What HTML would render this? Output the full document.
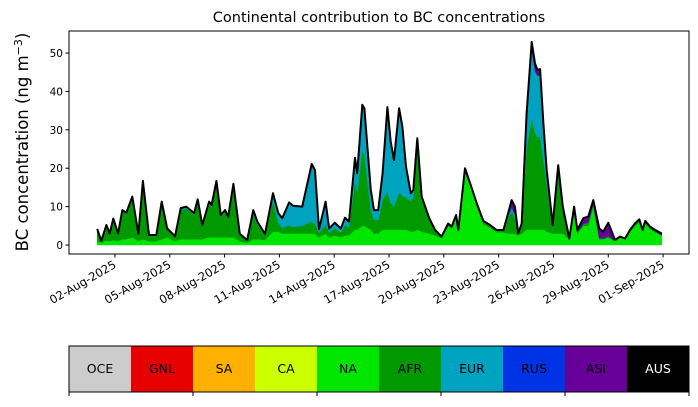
<!DOCTYPE html>
<html><head><meta charset="utf-8"><style>
body{margin:0;background:#fff;width:698px;height:402px;overflow:hidden;font-family:"Liberation Sans","DejaVu Sans",sans-serif}
svg text{font-family:"DejaVu Sans","Liberation Sans",sans-serif}
</style></head><body>
<svg id="chart" width="698" height="402" viewBox="0 0 698 402" xmlns="http://www.w3.org/2000/svg">
<text x="379" y="22" font-size="14.5" text-anchor="middle">Continental contribution to BC concentrations</text>
<text transform="translate(28,142) rotate(-90)" font-size="16.5" text-anchor="middle">BC concentration (ng m<tspan baseline-shift="super" font-size="11">−3</tspan>)</text>
<g id="areas"></g><g id="axes"></g><g id="cbar"></g>
</svg>
<script>
const days=[0.03,0.25,0.53,0.71,0.91,1.17,1.40,1.62,1.95,2.28,2.53,2.86,3.26,3.56,3.86,4.29,4.60,4.90,5.33,5.53,5.78,6.15,6.29,6.55,6.79,7.02,7.20,7.48,7.83,8.24,8.57,8.79,9.21,9.65,9.94,10.16,10.53,10.75,11.25,11.77,11.95,12.17,12.53,12.72,13.03,13.36,13.59,13.81,14.14,14.26,14.54,14.65,15.00,15.18,15.41,15.65,15.91,16.09,16.27,16.55,16.73,16.93,17.19,17.33,17.55,17.79,18.20,18.52,18.88,19.24,19.43,19.67,19.79,20.16,20.43,20.80,21.16,21.53,21.89,22.26,22.47,22.71,22.89,23.07,23.26,23.53,23.81,23.99,24.12,24.27,24.45,24.63,24.96,25.26,25.51,25.87,26.13,26.31,26.64,26.91,27.18,27.51,27.73,28.00,28.37,28.64,28.92,29.19,29.46,29.70,29.88,30.02,30.29,30.57,30.93];
const total=[4.2,1.1,5.2,3.0,6.9,3,9.1,8.4,12.6,2.9,16.7,2.6,2.6,11.3,4.3,2.3,9.6,10,8.3,11.9,5.2,11.3,10.4,16.7,7.8,9.1,7.4,15.9,2.9,1.3,9.1,6.1,2.9,13.5,8.3,7,11.1,10.2,10,21.1,19.5,4.1,11.3,4.3,5.8,4.3,7.1,6.1,22.7,18.7,36.5,35.6,14.3,9.1,9.1,18.7,35.9,26.9,22.1,35.6,30.8,20.4,13.5,14.3,27.8,12.6,7,3.9,2.2,5.6,4.8,7.8,3.9,20,16.2,10.9,6.3,5.2,3.9,3.9,7.4,11.7,10,3,5.6,34.3,52.9,47.3,45.6,45.8,31.7,19.5,5.2,20.8,10,1.7,10,3.9,7,7.4,11.7,4.3,3.5,5.8,1.3,2.2,1.7,3.9,5.6,6.7,3.9,6.3,4.8,3.9,3];
const na=[1,0.6,1.2,1,1.3,1,1.5,1.5,2,1,1.5,1,1,1.5,2,1,1.5,1.5,1.5,1.5,1.5,2,2,2,2,2,2,2,1,0.6,1.5,1.5,1.3,3.5,3.5,3,3,3,3,3,3,2,3,2,2.5,2,2.5,2.5,4,4,5,5,4,3,3,4,4,4,4,4,4,4,3.5,3.5,4,3.5,3,2.5,1.8,5,4.3,7,3.5,19,15.5,10.3,5.5,4.5,3.3,3.3,3,3,3,2.5,3,4,4,4,4,4,4,3.5,3,3,3,1.5,8,3,5,5,10,1.5,1.5,2,1,2,1.5,3.5,5,6,3.5,5.5,4.2,3.3,2.4];
const eur=[0.1,0,0.2,0.1,0.3,0.1,0.3,0.4,0.5,0.1,0.5,0.1,0.1,0.5,0.3,0.1,0.5,0.5,0.5,0.5,0.3,0.5,0.5,0.6,0.4,0.5,0.4,0.5,0.1,0,1,0.8,0.3,2,2.5,2.5,6,5.5,5,15,14,1,6,1,1.5,1,2,1.5,6,5,12,12,5,2.5,2.5,7,22,16,12,22,18,8,2,2,1.5,0.5,0.3,0.1,0,0,0,0,0,0,0,0,0,0,0,0,0.5,1,1,0,0.3,8,18,16,16,16,8,2,0.2,1,0.5,0,0.5,0,0,0,0.3,0,0,0,0,0,0,0,0,0,0,0,0,0,0];
const asi=[0,0,0,0,0,0,0,0,0,0,0,0,0,0,0,0,0,0,0,0,0,0,0,0,0,0,0,0,0,0,0,0,0,0,0,0,0,0,0,0,0,0,0,0,0,0,0,0,0,0,0,0,0,0,0,0,0,0,0,0,0,0,0,0,0,0,0,0,0,0,0,0,0,0,0,0,0,0,0,0,0.5,2,2,0.1,0.2,1,2,2,1.5,1.5,1.5,2,0.5,1,0.5,0,0.3,0.5,1.5,1.5,1,2.5,1.8,3.5,0.2,0,0,0,0,0,0,0,0.3,0.3,0.4];
const yTicks=[0,10,20,30,40,50];
const xTickDays=[1,4,7,10,13,16,19,22,25,28,31];
const xTickLabels=["02-Aug-2025","05-Aug-2025","08-Aug-2025","11-Aug-2025","14-Aug-2025","17-Aug-2025","20-Aug-2025","23-Aug-2025","26-Aug-2025","29-Aug-2025","01-Sep-2025"];
const regions=["OCE","GNL","SA","CA","NA","AFR","EUR","RUS","ASI","AUS"];
const regionColors=["#cccccc","#e60000","#ffb000","#ccff00","#00e600","#009900","#00a3bf","#0033e6","#660099","#000000"];

const NS="http://www.w3.org/2000/svg";
const X0=69,X1=689,Y0=31,Y1=254;
const xs=d=>96.7+d*18.27;
const ys=v=>245-v*3.84;
function mk(t,a,p){const e=document.createElementNS(NS,t);for(const k in a)e.setAttribute(k,a[k]);p.appendChild(e);return e;}
const areas=document.getElementById('areas'),axes=document.getElementById('axes'),cbar=document.getElementById('cbar');
const afr=total.map((t,i)=>Math.max(0,t-na[i]-eur[i]-asi[i]));
const layers=[["na",na,regionColors[4]],["afr",afr,regionColors[5]],["eur",eur,regionColors[6]],["asi",asi,regionColors[8]]];
let base=days.map(()=>0);
layers.forEach(([nm,arr,col])=>{
  const top=base.map((b,i)=>b+arr[i]);
  let d="M"+days.map((t,i)=>xs(t).toFixed(1)+","+ys(top[i]).toFixed(1)).join("L");
  for(let i=days.length-1;i>=0;i--)d+="L"+xs(days[i]).toFixed(1)+","+ys(base[i]).toFixed(1);
  const p=mk('path',{d:d+"Z",fill:col,stroke:col,'stroke-width':0.5},areas);
  
  
  base=top;
});
const tl=mk('polyline',{points:days.map((t,i)=>xs(t).toFixed(1)+","+ys(base[i]).toFixed(1)).join(" "),fill:"none",stroke:"#000","stroke-width":2,"stroke-linejoin":"round"},areas);


const fr=mk('rect',{x:X0,y:Y0,width:X1-X0,height:Y1-Y0,fill:"none",stroke:"#000","stroke-width":1},axes);


yTicks.forEach(v=>{
  mk('line',{x1:X0-3.5,x2:X0,y1:ys(v),y2:ys(v),stroke:"#000"},axes);
  const t=mk('text',{x:X0-6,y:ys(v)+4,"font-size":10.5,"text-anchor":"end"},axes);t.textContent=v;
  
  
});
xTickDays.forEach((d,i)=>{
  const x=xs(d);
  mk('line',{x1:x,x2:x,y1:Y1,y2:Y1+3.5,stroke:"#000"},axes);
  const t=mk('text',{transform:`translate(${x+2},${Y1+13}) rotate(-30)`,"font-size":11.5,"text-anchor":"end"},axes);t.textContent=xTickLabels[i];
  
  
});
const bw=62;
regions.forEach((r,i)=>{
  const g=mk('g',{},cbar);
  
  
  mk('rect',{x:69+i*bw,y:346,width:bw,height:46,fill:regionColors[i]},g);
  const t=mk('text',{x:69+i*bw+bw/2,y:373,"font-size":12.5,"text-anchor":"middle",fill:i==9?"#fff":"#000"},g);t.textContent=r;
});
mk('rect',{x:69,y:346,width:620,height:46,fill:"none",stroke:"#000","stroke-width":1},cbar);
[0,2,4,6,8,10].forEach(k=>mk('line',{x1:69+k*bw,x2:69+k*bw,y1:392,y2:396,stroke:"#000"},cbar));
</script>
</body></html>
